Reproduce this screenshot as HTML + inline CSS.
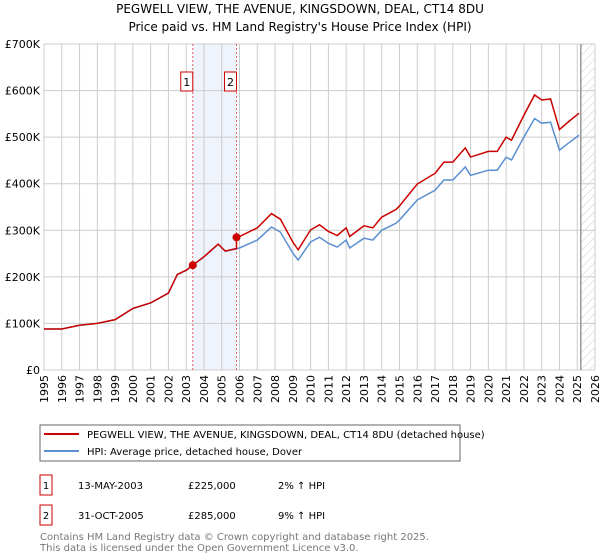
<!DOCTYPE html>
<html><head><meta charset="utf-8"><style>
body{margin:0;background:#fff;font-family:"DejaVu Sans","Liberation Sans",sans-serif;}
#wrap{position:relative;width:600px;height:560px;overflow:hidden;}
svg text{font-family:"DejaVu Sans","Liberation Sans",sans-serif;}
</style></head><body><div id="wrap">
<svg id="chart" width="600" height="560">
<defs><pattern id="hatch" width="6" height="6" patternUnits="userSpaceOnUse" patternTransform="rotate(45)"><line x1="0" y1="0" x2="0" y2="6" stroke="#ccc" stroke-width="1"/></pattern></defs>
<text x="300" y="13" text-anchor="middle" font-size="12" fill="#000">PEGWELL VIEW, THE AVENUE, KINGSDOWN, DEAL, CT14 8DU</text>
<text x="300" y="31" text-anchor="middle" font-size="12" fill="#000">Price paid vs. HM Land Registry's House Price Index (HPI)</text>
<g id="grid"></g><g id="marks"></g>
<rect x="40" y="425" width="420" height="36" fill="#fff" stroke="#666"/>
<line x1="44" y1="434" x2="79" y2="434" stroke="#cc0000" stroke-width="2"/>
<text x="87" y="438" font-size="10">PEGWELL VIEW, THE AVENUE, KINGSDOWN, DEAL, CT14 8DU (detached house)</text>
<line x1="44" y1="451" x2="79" y2="451" stroke="#5b8fd0" stroke-width="2"/>
<text x="87" y="455" font-size="10">HPI: Average price, detached house, Dover</text>
<g>
<rect x="40" y="475" width="12" height="20" fill="none" stroke="#cc0000"/>
<text x="46" y="489" text-anchor="middle" font-size="10">1</text>
<text x="78" y="489" font-size="10">13-MAY-2003</text>
<text x="188" y="489" font-size="10">£225,000</text>
<text x="278" y="489" font-size="10">2% ↑ HPI</text></g>
<g>
<rect x="40" y="505" width="12" height="20" fill="none" stroke="#cc0000"/>
<text x="46" y="519" text-anchor="middle" font-size="10">2</text>
<text x="78" y="519" font-size="10">31-OCT-2005</text>
<text x="188" y="519" font-size="10">£285,000</text>
<text x="278" y="519" font-size="10">9% ↑ HPI</text></g>
<text x="40" y="540" font-size="10" fill="#777">Contains HM Land Registry data © Crown copyright and database right 2025.</text>
<text x="40" y="551" font-size="10" fill="#777">This data is licensed under the Open Government Licence v3.0.</text>
</svg>
<script>
const hpiYears=[1995,1996,1997,1998,1999,2000,2001,2002,2002.5,2003,2004,2004.8,2005.2,2006,2007,2007.8,2008.3,2009,2009.3,2010,2010.5,2011,2011.5,2012,2012.2,2013,2013.5,2014,2014.8,2015,2016,2017,2017.5,2018,2018.7,2019,2020,2020.5,2021,2021.3,2022,2022.6,2023,2023.5,2024,2024.5,2025.1];
const hpiValues=[88,88,96,100,108,132,144,165,205,214,243,270,255,262,279,307,296,251,236,275,285,272,264,279,262,283,279,300,315,322,365,386,408,408,436,418,429,429,457,451,500,540,530,532,472,487,504];
const saleYears=[2003.37,2005.83];
const salePrices=[225,285];
const yTicks=[0,100,200,300,400,500,600,700];
const xTicks=[1995,1996,1997,1998,1999,2000,2001,2002,2003,2004,2005,2006,2007,2008,2009,2010,2011,2012,2013,2014,2015,2016,2017,2018,2019,2020,2021,2022,2023,2024,2025,2026];
const NS="http://www.w3.org/2000/svg";
const X0=44,X1=595,Y0=370,Y1=44;
const xs=y=>X0+(y-1995)/(2026-1995)*(X1-X0);
const ys=v=>Y0-v/700*(Y0-Y1);
function mk(t,a,p){const e=document.createElementNS(NS,t);for(const k in a)e.setAttribute(k,a[k]);p.appendChild(e);return e;}
function hpiAt(t){for(let i=1;i<hpiYears.length;i++){if(t<=hpiYears[i]){const f=(t-hpiYears[i-1])/(hpiYears[i]-hpiYears[i-1]);return hpiValues[i-1]+f*(hpiValues[i]-hpiValues[i-1]);}}return hpiValues[hpiValues.length-1];}
const g=document.getElementById('grid'),m=document.getElementById('marks');
const shade=mk('rect',{x:xs(saleYears[0]),y:Y1,width:xs(saleYears[1])-xs(saleYears[0]),height:Y0-Y1,fill:'#eef3fc'},g);


const hatch=mk('rect',{x:xs(2025.2),y:Y1,width:X1-xs(2025.2),height:Y0-Y1,fill:'url(#hatch)'},g);


yTicks.forEach(v=>{
 const l=mk('line',{x1:X0,x2:X1,y1:ys(v),y2:ys(v),stroke:'#ccc'},g);
 
 
 const t=mk('text',{x:X0-4,y:ys(v)+4,'text-anchor':'end','font-size':'11'},g);
 
 
 t.textContent=v===0?'£0':'£'+v+'K';
});
xTicks.forEach(v=>{
 const l=mk('line',{x1:xs(v),x2:xs(v),y1:Y1,y2:Y0,stroke:'#ccc'},g);
 
 
 const tx=xs(v)+4,ty=375;
 const t=mk('text',{x:tx,y:ty,'text-anchor':'end','font-size':'11',transform:'rotate(-90 '+tx+' '+ty+')'},g);
 
 
 t.textContent=v;
});
const vl=mk('line',{x1:xs(2025.2),x2:xs(2025.2),y1:Y1,y2:Y0,stroke:'#999','stroke-width':1.5},g);


saleYears.forEach((s,i)=>{
 const l=mk('line',{x1:xs(s),x2:xs(s),y1:Y1,y2:Y0,stroke:'#e06060','stroke-dasharray':'2,2'},g);
 
 
 const r=mk('rect',{x:xs(s)-12,y:72,width:12,height:19,fill:'#fff',stroke:'#cc0000'},g);
 
 
 const t=mk('text',{x:xs(s)-6,y:86,'text-anchor':'middle','font-size':'11'},g);
 
 
 t.textContent=i+1;
});
let bp='',rp='';
hpiYears.forEach((yr,i)=>{bp+=(i?'L':'M')+xs(yr)+','+ys(hpiValues[i]);});
const pts=[];
hpiYears.forEach((yr,i)=>{if(yr<saleYears[1])pts.push([yr,hpiValues[i]*salePrices[0]/hpiAt(saleYears[0])]);});
pts.push([saleYears[1],hpiAt(saleYears[1])*salePrices[0]/hpiAt(saleYears[0])]);
pts.push([saleYears[1],salePrices[1]]);
hpiYears.forEach((yr,i)=>{if(yr>saleYears[1])pts.push([yr,hpiValues[i]*salePrices[1]/hpiAt(saleYears[1])]);});
pts.forEach((p,i)=>{rp+=(i?'L':'M')+xs(p[0])+','+ys(p[1]);});
const bl=mk('path',{d:bp,fill:'none',stroke:'#5b8fd0','stroke-width':1.5},m);


const rl=mk('path',{d:rp,fill:'none',stroke:'#cc0000','stroke-width':1.5},m);


saleYears.forEach((s,i)=>{
 const c=mk('circle',{cx:xs(s),cy:ys(salePrices[i]),r:4,fill:'#cc0000'},m);
 
 
});
</script></div></body></html>
